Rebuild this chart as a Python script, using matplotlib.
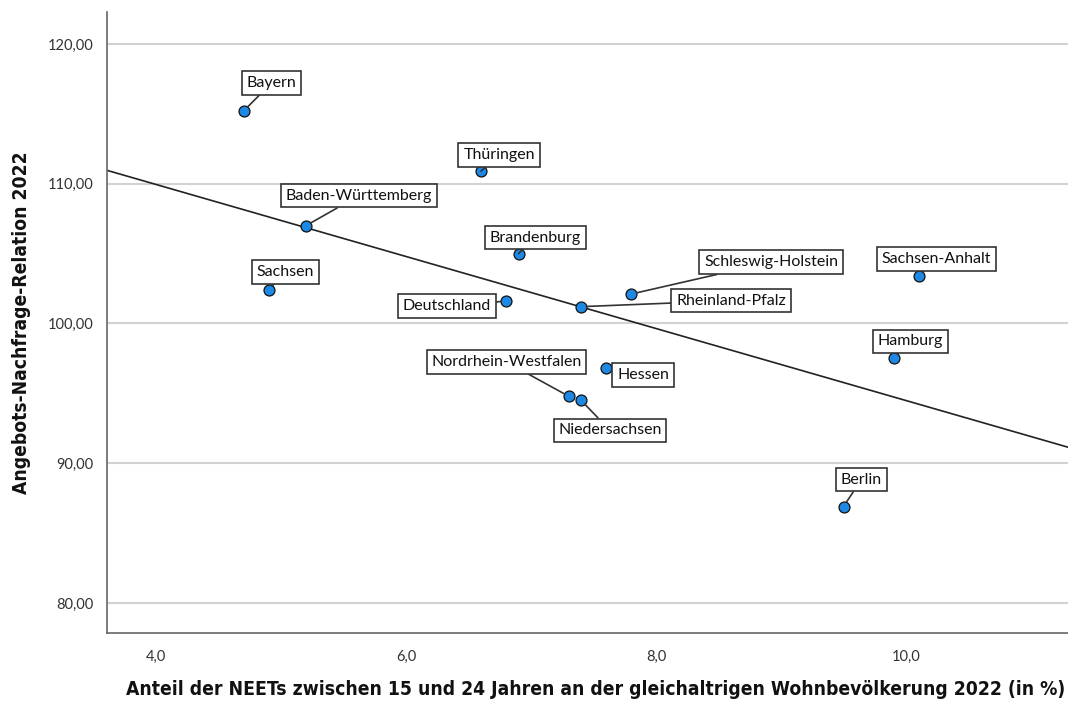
import numpy as np
import matplotlib
matplotlib.use("Agg")
import matplotlib.pyplot as plt

# values
laender = ["Bayern", "Thüringen", "Baden-Württemberg", "Brandenburg", "Sachsen",
           "Schleswig-Holstein", "Rheinland-Pfalz", "Deutschland", "Nordrhein-Westfalen",
           "Niedersachsen", "Hessen", "Sachsen-Anhalt", "Hamburg", "Berlin"]
neet = [4.7, 6.6, 5.2, 6.9, 4.9, 7.8, 7.4, 6.8, 7.3, 7.4, 7.6, 10.1, 9.9, 9.5]
anr = [115.2, 110.9, 107.0, 105.0, 102.4, 102.1, 101.2, 101.6, 94.8, 94.5, 96.8, 103.4, 97.5, 86.9]

# label box offsets from the point (pixels)
offsets = {
    "Bayern": (28, 28), "Thüringen": (18, 16), "Baden-Württemberg": (53, 30),
    "Brandenburg": (17, 16), "Sachsen": (17, 18), "Schleswig-Holstein": (140, 32),
    "Rheinland-Pfalz": (150, 6), "Deutschland": (-59, -5), "Nordrhein-Westfalen": (-62, 34),
    "Niedersachsen": (29, -30), "Hessen": (37, -7), "Sachsen-Anhalt": (18, 17),
    "Hamburg": (17, 17), "Berlin": (18, 27),
}

fig = plt.figure(figsize=(10.68, 7.02), dpi=100)
ax = fig.add_axes([0.1002, 0.0983, 0.8998, 0.8847])

x_min, x_max = 3.608, 11.296
ax.set_xlim(x_min, x_max)
ax.set_ylim(77.85, 122.29)

# grid
ax.set_yticks([80, 90, 100, 110, 120])
ax.set_yticklabels(["80,00", "90,00", "100,00", "110,00", "120,00"])
ax.set_xticks([4, 6, 8, 10])
ax.set_xticklabels(["4,0", "6,0", "8,0", "10,0"])
ax.yaxis.grid(True, color="#d2d2d2", linewidth=1.5, zorder=0)
ax.set_axisbelow(True)
ax.tick_params(length=0, labelsize=10.5, labelcolor="#333333")
for lab in ax.get_xticklabels() + ax.get_yticklabels():
    lab.set_family("Lato")
ax.tick_params(axis="x", pad=12)
ax.tick_params(axis="y", pad=10)

for s in ["top", "right"]:
    ax.spines[s].set_visible(False)
for s in ["left", "bottom"]:
    ax.spines[s].set_color("#666666")
    ax.spines[s].set_linewidth(1.2)

# regression line (federal states only)
xs = np.array([v for n, v in zip(laender, neet) if n != "Deutschland"])
ys = np.array([v for n, v in zip(laender, anr) if n != "Deutschland"])
b, a = np.polyfit(xs, ys, 1)
ax.plot([x_min, x_max], [a + b * x_min, a + b * x_max], color="#222222", linewidth=1.2, zorder=2)

ax.scatter(neet, anr, s=62, color="#1e88e5", edgecolor="#111111", linewidth=0.9, zorder=4)

for name, x, y in zip(laender, neet, anr):
    ax.annotate(name, xy=(x, y), xytext=offsets[name], textcoords="offset pixels",
                ha="center", va="center", fontsize=11.5, family="Lato", color="#111111",
                bbox=dict(boxstyle="square,pad=0.3", facecolor="white", edgecolor="#333333", linewidth=1.2),
                arrowprops=dict(arrowstyle="-", color="#333333", linewidth=1.2, shrinkA=0, shrinkB=4),
                zorder=5)

ax.set_xlabel("Anteil der NEETs zwischen 15 und 24 Jahren an der gleichaltrigen Wohnbevölkerung 2022 (in %)",
              family="DejaVu Sans", fontstretch="condensed", fontweight="semibold",
              fontsize=13.9, color="#111111")
ax.xaxis.set_label_coords(0.508, -0.076)
ax.set_ylabel("Angebots-Nachfrage-Relation 2022",
              family="DejaVu Sans", fontstretch="condensed", fontweight="semibold",
              fontsize=13.8, color="#111111", labelpad=12)

fig.savefig("out.png", dpi=100)
